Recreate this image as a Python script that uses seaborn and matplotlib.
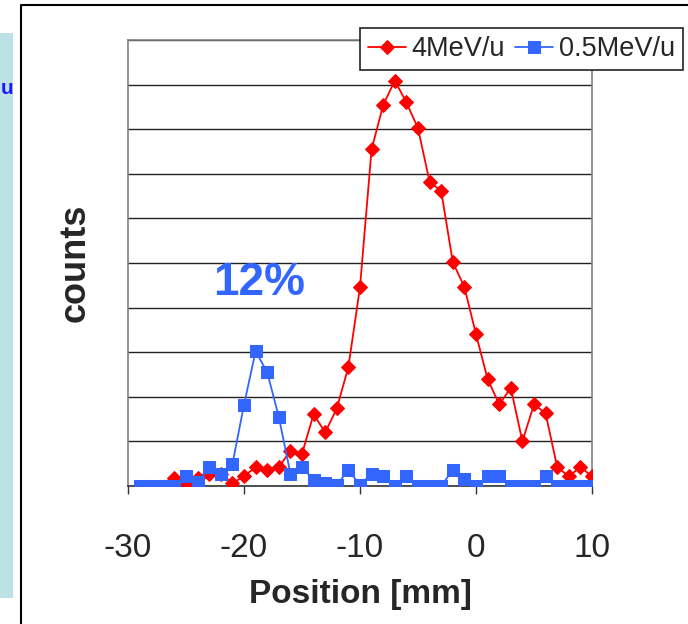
import numpy as np
import pandas as pd
import seaborn as sns
import matplotlib
matplotlib.use("Agg")
import matplotlib.pyplot as plt
from matplotlib.patches import Rectangle
from matplotlib.lines import Line2D

# ---- data (y in gridline units) ----
pos_4mev = list(range(-26, 11))
counts_4mev = [0.17, 0.05, 0.17, 0.28, 0.28, 0.06, 0.22, 0.42, 0.35, 0.42,
               0.79, 0.72, 1.61, 1.20, 1.74, 2.67, 4.46, 7.55, 8.54, 9.09,
               8.60, 8.02, 6.82, 6.61, 5.02, 4.46, 3.40, 2.40, 1.83, 2.20,
               1.00, 1.83, 1.63, 0.42, 0.22, 0.42, 0.22]

pos_05mev = list(range(-29, 11))
counts_05mev = [0, 0, 0, 0, 0.22, 0.08, 0.42, 0.28, 0.49, 1.82,
                3.02, 2.55, 1.55, 0.28, 0.43, 0.13, 0.06, 0.02, 0.36, 0.02,
                0.28, 0.22, 0, 0.22, 0, 0, 0, 0.36, 0.15, 0,
                0.22, 0.22, 0, 0, 0, 0.22, 0, 0, 0, 0]

series_names = ["4MeV/u", "0.5MeV/u"]
x_ticks = [-30, -20, -10, 0, 10]
annotation = "12%"
x_label = "Position [mm]"
y_label = "counts"

RED = "#ff0000"
BLUE = "#3366ff"

sns.set_style("white")
plt.rcParams["font.family"] = ["Liberation Sans", "DejaVu Sans"]

fig = plt.figure(figsize=(6.88, 6.24), dpi=100)
W, H = 688, 624
ax = fig.add_axes([128 / W, 1 - 486 / H, (592 - 128) / W, (486 - 40) / H])

df1 = pd.DataFrame({"x": pos_4mev, "y": counts_4mev})
df2 = pd.DataFrame({"x": pos_05mev, "y": counts_05mev})

sns.lineplot(data=df1, x="x", y="y", ax=ax, color=RED, marker="D",
             markersize=7, markeredgecolor=RED, linewidth=1.3,
             label=series_names[0], zorder=3)
sns.lineplot(data=df2, x="x", y="y", ax=ax, color=BLUE, marker="s",
             markersize=8, markeredgecolor=BLUE, linewidth=1.3,
             label=series_names[1], zorder=4)

ax.set_xlim(-30, 10)
ax.set_ylim(0, 10)
ax.set_yticks(np.arange(0, 11, 1))
ax.set_yticklabels([])
ax.tick_params(axis="y", length=0)
ax.grid(axis="y", color="#222222", linewidth=1.0)
ax.grid(axis="x", visible=False)
ax.set_axisbelow(True)

ax.set_xticks(x_ticks)
ax.set_xticklabels([str(t) for t in x_ticks], fontsize=24)
ax.tick_params(axis="x", direction="out", length=6, width=1, color="#333333",
               pad=28, bottom=True)

for s in ["left", "right", "top"]:
    ax.spines[s].set_color("#808080")
    ax.spines[s].set_linewidth(1.2)
ax.spines["bottom"].set_color("#333333")
ax.spines["bottom"].set_linewidth(1.2)

ax.set_xlabel(x_label, fontsize=24, fontweight="bold", labelpad=11)
ax.set_ylabel(y_label, fontsize=26, fontweight="bold", labelpad=22)

ax.text(-18.7, 4.55, annotation, color=BLUE, fontsize=33, fontweight="bold",
        ha="center", va="center")

leg = ax.legend(loc="upper right", bbox_to_anchor=(683 / W, 1 - 28 / H),
                bbox_transform=fig.transFigure, ncol=2, fontsize=19.5,
                frameon=True, fancybox=False, borderpad=0.3,
                handlelength=1.4, handletextpad=0.2, columnspacing=0.4,
                borderaxespad=0)
leg.get_frame().set_edgecolor("#222222")
leg.get_frame().set_linewidth(1.2)
leg.get_frame().set_facecolor("white")
leg.get_frame().set_alpha(1)

# decoration from slide: light-blue side panel and frame
fig.patches.append(Rectangle((0, 1 - 598 / H), 13 / W, (598 - 33) / H,
                             transform=fig.transFigure, facecolor="#bde2e6",
                             edgecolor="none", zorder=0))
fig.text(0.5 / W, 1 - 88 / H, "u", color="#1a1aff", fontsize=15,
         fontweight="bold", ha="left", va="center")
fig.lines.append(Line2D([20.5 / W, 20.5 / W, 1], [0, 1 - 5 / H, 1 - 5 / H],
                        transform=fig.transFigure, color="black",
                        linewidth=1.5))

fig.savefig("out.png", dpi=100)
